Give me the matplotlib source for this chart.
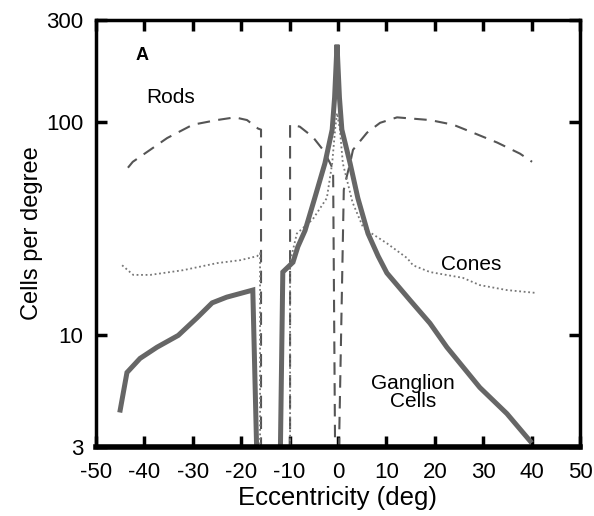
import numpy as np
import matplotlib.pyplot as plt

plt.rcParams['font.family'] = ['Liberation Sans', 'DejaVu Sans']

# ---- data (eccentricity deg, cells per degree) ----
rods_left_x = [-43.4, -42.4, -38.8, -35.3, -30.0, -25.0, -21.3, -18.8, -16.5, -15.9, -15.9]
rods_left_y = [61, 65, 74, 84, 97, 102, 105, 102, 93, 92, 2.9]
rods_mid_x = [-9.9, -9.9, -7.9, -5.2, -3.1, -2.5, -1.0, -1.0, -0.6]
rods_mid_y = [2.9, 97, 95, 85, 74, 70, 60, 56, 2.9]
rods_right_x = [0.2, 1.2, 1.5, 2.5, 3.1, 6.0, 8.7, 12.2, 19.0, 23.8, 27.9, 32.9, 37.6, 40.1]
rods_right_y = [2.9, 48, 52, 64, 74, 89, 99, 105, 102, 97, 89, 80, 71, 65]

cones_left_x = [-44.6, -42.3, -38.8, -32.0, -25.0, -20.2, -16.7, -16.1, -16.1]
cones_left_y = [21.3, 19.2, 19.2, 20.2, 21.8, 22.5, 23.5, 24.3, 2.9]
cones_right_x = [-9.9, -9.9, -8.5, -5.2, -2.3, -1.2, -0.6, -0.2, 0.4, 1.0, 3.0,
                 5.2, 6.0, 10.1, 14.3, 15.5, 19.0, 25.8, 29.3, 34.9, 41.0]
cones_right_y = [2.9, 22, 30, 35, 44, 64, 92, 110, 92, 64, 42,
                 32, 31, 27, 23, 21.3, 19.8, 18.6, 17.2, 16.3, 15.8]

gang_left_x = [-45.0, -43.6, -40.9, -37.4, -33.0, -29.1, -26.0, -23.0, -17.6, -16.8]
gang_left_y = [4.47, 6.7, 7.8, 8.8, 10.0, 12.1, 14.2, 15.1, 16.3, 2.9]
gang_right_x = [-11.9, -11.4, -9.3, -8.3, -6.8, -4.8, -2.7, -1.2, -0.7, -0.2,
                0.3, 0.8, 2.5, 4.1, 6.2, 8.3, 10.1, 14.9, 19.0, 22.5, 29.3, 34.9, 39.7]
gang_right_y = [2.9, 19.8, 22, 26, 31, 44, 64, 92, 130, 230,
                130, 92, 64, 44, 30, 23.5, 19.6, 14.6, 11.4, 8.8, 5.7, 4.3, 3.2]

xticks = [-50, -40, -30, -20, -10, 0, 10, 20, 30, 40, 50]
yticks = [3, 10, 100, 300]

fig = plt.figure(figsize=(5.94, 5.16), dpi=100)
ax = fig.add_axes([0.1616, 0.1337, 0.8148, 0.8275])

rod_kw = dict(color='#555555', lw=1.5, dashes=(6, 4))
ax.plot(rods_left_x, rods_left_y, **rod_kw)
ax.plot(rods_mid_x, rods_mid_y, **rod_kw)
ax.plot(rods_right_x, rods_right_y, **rod_kw)

cone_kw = dict(color='#777777', lw=1.3, linestyle=(0, (1, 1.5)))
ax.plot(cones_left_x, cones_left_y, **cone_kw)
ax.plot(cones_right_x, cones_right_y, **cone_kw)

gang_kw = dict(color='#666666', lw=3.6, solid_joinstyle='miter')
ax.plot(gang_left_x, gang_left_y, **gang_kw)
ax.plot(gang_right_x, gang_right_y, **gang_kw)

ax.set_yscale('log')
ax.set_xlim(-50, 50)
ax.set_ylim(3, 300)
ax.set_xticks(xticks)
ax.set_xticklabels([str(t) for t in xticks])
ax.set_yticks(yticks)
ax.set_yticklabels([str(t) for t in yticks])
ax.yaxis.set_minor_locator(plt.NullLocator())
ax.tick_params(direction='in', length=8, width=2.5, labelsize=16,
               top=True, right=True)
ax.tick_params(axis='x', pad=11)
ax.tick_params(axis='y', pad=9)

for side, w in [('left', 2.5), ('right', 2.5), ('top', 2.5), ('bottom', 4)]:
    ax.spines[side].set_linewidth(w)

ax.set_xlabel('Eccentricity (deg)', fontsize=18.5, labelpad=2)
ax.set_ylabel('Cells per degree', fontsize=17, labelpad=2)

ax.text(-40.5, 205, 'A', fontsize=13, fontweight='bold', ha='center', va='center')
ax.text(-34.5, 130, 'Rods', fontsize=15, ha='center', va='center')
ax.text(27.5, 21.5, 'Cones', fontsize=15, ha='center', va='center')
ax.text(15.5, 5.4, 'Ganglion\nCells', fontsize=15, ha='center', va='center',
        linespacing=0.95)

fig.savefig('out.png', dpi=100)
